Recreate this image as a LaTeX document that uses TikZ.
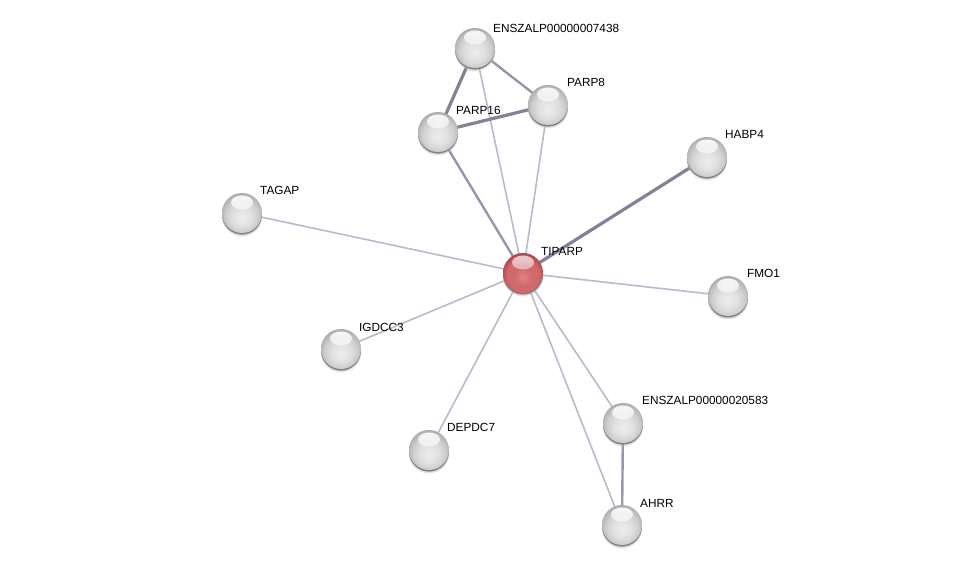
\documentclass[tikz,border=0pt]{standalone}
\usepackage{fontspec}
\setmainfont{Liberation Sans}
\usetikzlibrary{fadings}
\definecolor{thinE}{RGB}{186,186,206}
\definecolor{medE}{RGB}{150,150,172}
\definecolor{thickE}{RGB}{130,130,152}
\definecolor{redA}{RGB}{225,128,130}
\definecolor{redB}{RGB}{208,104,108}
\definecolor{redC}{RGB}{182,76,82}
\definecolor{redD}{RGB}{140,50,54}
\pgfdeclareradialshading{graysph}{\pgfpoint{0bp}{-6bp}}{%
  color(0bp)=(black!7); color(12bp)=(black!12); color(20bp)=(black!19);
  color(26bp)=(black!29); color(31bp)=(black!42); color(50bp)=(black!42)}
\pgfdeclareradialshading{redsph}{\pgfpoint{0bp}{-6bp}}{%
  color(0bp)=(redA); color(12bp)=(redB); color(20bp)=(redB);
  color(26bp)=(redC); color(31bp)=(redD); color(50bp)=(redD)}
\tikzset{
  prot/.style={circle, minimum size=40pt, inner sep=0pt, shading=graysph,
    path picture={\fill[white, path fading=south, opacity=0.95]
      ([yshift=10.5pt]path picture bounding box.center) ellipse[x radius=11pt, y radius=7pt];}},
  hub/.style={circle, minimum size=40pt, inner sep=0pt, shading=redsph,
    path picture={\fill[white, path fading=south, opacity=0.75]
      ([yshift=10.5pt]path picture bounding box.center) ellipse[x radius=11pt, y radius=7pt];}},
  shad/.style={fill=black!50},
  shad2/.style={fill=black!25, opacity=0.45},
  lbl/.style={anchor=west, font=\fontsize{11.8}{12}\selectfont, inner sep=0pt},
  ethin/.style={draw=thinE, line width=1.6pt},
  emed/.style={draw=medE, line width=2.4pt},
  ethick/.style={draw=thickE, line width=3.2pt}
}
\begin{document}
\begin{tikzpicture}[x=1pt,y=-1pt]
\useasboundingbox (0,0) rectangle (975,570);
\fill[white] (0,0) rectangle (975,570);
% coordinates
\coordinate (cE7) at (475,48);
\coordinate (cP8) at (548,105);
\coordinate (cP16) at (438,132);
\coordinate (cHA) at (707,157);
\coordinate (cTA) at (242,213);
\coordinate (cTI) at (523,273);
\coordinate (cFM) at (728,296);
\coordinate (cIG) at (341,349);
\coordinate (cE2) at (623,423);
\coordinate (cDE) at (429,450);
\coordinate (cAH) at (622,525);
% edges
\draw[ethin] (cE7) -- (cTI);
\draw[ethin] (cP8) -- (cTI);
\draw[emed] (cP16) -- (cTI);
\draw[ethick] (cHA) -- (cTI);
\draw[ethin] (cTA) -- (cTI);
\draw[ethin] (cFM) -- (cTI);
\draw[ethin] (cIG) -- (cTI);
\draw[ethin] (cDE) -- (cTI);
\draw[ethin] (cE2) -- (cTI);
\draw[ethin] (cAH) -- (cTI);
\draw[emed] (cE2) -- (cAH);
\draw[emed] (cE7) -- (cP8);
\draw[ethick] (cE7) -- (cP16);
\draw[ethick] (cP16) -- (cP8);
% shadows
\foreach \c in {cE7,cP8,cP16,cHA,cTA,cTI,cFM,cIG,cE2,cDE,cAH}{
  \fill[shad2] ([yshift=-3.2pt]\c) circle[radius=20.2pt];
  \fill[shad] ([yshift=-1.6pt]\c) circle[radius=20pt];}
% nodes
\node[prot] (E7) at (cE7) {};
\node[prot] (P8) at (cP8) {};
\node[prot] (P16) at (cP16) {};
\node[prot] (HA) at (cHA) {};
\node[prot] (TA) at (cTA) {};
\node[hub] (TI) at (cTI) {};
\node[prot] (FM) at (cFM) {};
\node[prot] (IG) at (cIG) {};
\node[prot] (E2) at (cE2) {};
\node[prot] (DE) at (cDE) {};
\node[prot] (AH) at (cAH) {};
% labels
\node[lbl] (lE7) at ([shift={(18,-20)}]cE7) {ENSZALP00000007438};
\node[lbl] (lP8) at ([shift={(19,-23)}]cP8) {PARP8};
\node[lbl] (lP16) at ([shift={(18,-22)}]cP16) {PARP16};
\node[lbl] (lHA) at ([shift={(18,-23)}]cHA) {HABP4};
\node[lbl] (lTA) at ([shift={(18,-23)}]cTA) {TAGAP};
\node[lbl] (lTI) at ([shift={(18,-22)}]cTI) {TIPARP};
\node[lbl] (lFM) at ([shift={(19,-23)}]cFM) {FMO1};
\node[lbl] (lIG) at ([shift={(18,-22)}]cIG) {IGDCC3};
\node[lbl] (lE2) at ([shift={(19,-23)}]cE2) {ENSZALP00000020583};
\node[lbl] (lDE) at ([shift={(18,-23)}]cDE) {DEPDC7};
\node[lbl] (lAH) at ([shift={(18,-22)}]cAH) {AHRR};
\end{tikzpicture}
\end{document}
